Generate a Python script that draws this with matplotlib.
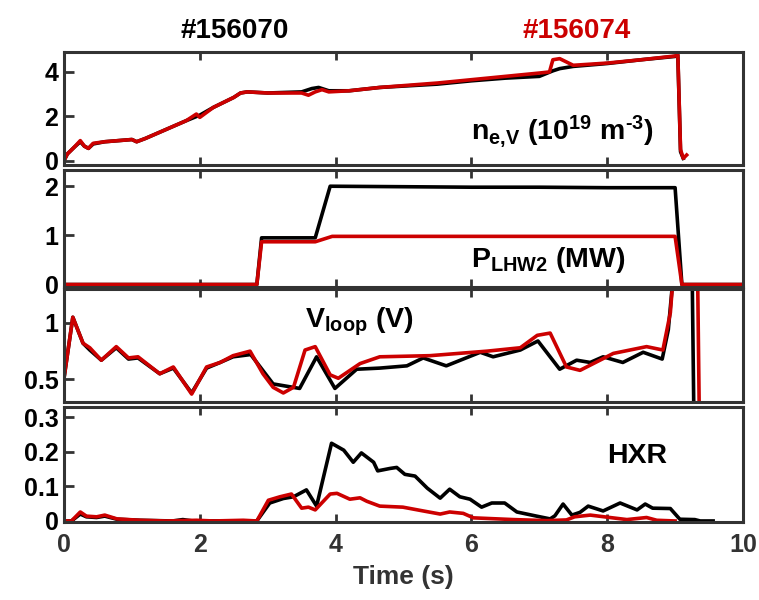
import numpy as np
import matplotlib
matplotlib.use("Agg")
from matplotlib import pyplot as plt

plt.rcParams['font.family'] = ['Liberation Sans', 'DejaVu Sans']
plt.rcParams['font.weight'] = 'bold'
plt.rcParams['mathtext.fontset'] = 'custom'
plt.rcParams['mathtext.rm'] = 'Liberation Sans:bold'
plt.rcParams['mathtext.bf'] = 'Liberation Sans:bold'
plt.rcParams['mathtext.it'] = 'Liberation Sans:bold'
plt.rcParams['mathtext.default'] = 'bf'

RED = '#cc0000'
GRAY = '#333333'

# ---- line-averaged density (10^19 m^-3) ----
ne_t_74 = [0.0, 0.05, 0.15, 0.24, 0.30, 0.36, 0.43, 0.6, 0.8, 1.0, 1.07, 1.2, 1.5, 1.8,
           1.95, 2.0, 2.2, 2.5, 2.6, 2.7, 3.0, 3.5, 3.6, 3.7, 3.8, 3.9, 4.2, 4.65, 5.5,
           6.0, 6.5, 7.0, 7.15, 7.2, 7.3, 7.4, 7.5, 8.0, 8.5, 9.0, 9.04, 9.08, 9.12, 9.17]
ne_v_74 = [0.0, 0.3, 0.6, 0.9, 0.65, 0.55, 0.78, 0.85, 0.9, 0.95, 0.85, 1.0, 1.4, 1.8,
           2.1, 1.95, 2.4, 2.85, 3.05, 3.1, 3.05, 3.05, 2.95, 3.1, 3.2, 3.1, 3.15, 3.3, 3.5,
           3.65, 3.8, 3.95, 4.0, 4.55, 4.6, 4.45, 4.3, 4.4, 4.55, 4.72, 4.8, 0.5, 0.1, 0.25]
ne_t_70 = [0.0, 0.05, 0.15, 0.24, 0.30, 0.36, 0.43, 0.6, 0.8, 1.0, 1.07, 1.2, 1.5, 1.8,
           2.0, 2.2, 2.5, 2.6, 2.7, 3.0, 3.5, 3.65, 3.75, 3.9, 4.2, 4.65, 5.5, 6.0, 6.5,
           7.0, 7.2, 7.3, 7.5, 8.0, 8.5, 9.0, 9.04, 9.08, 9.12]
ne_v_70 = [0.0, 0.3, 0.6, 0.85, 0.65, 0.55, 0.75, 0.85, 0.9, 0.95, 0.85, 1.0, 1.4, 1.8,
           2.05, 2.4, 2.85, 3.05, 3.1, 3.05, 3.1, 3.25, 3.3, 3.15, 3.15, 3.3, 3.45, 3.6,
           3.72, 3.8, 4.05, 4.15, 4.25, 4.38, 4.55, 4.7, 4.75, 0.4, 0.1]

# ---- LHW power (MW) ----
p_t_70 = [0.0, 2.84, 2.91, 3.3, 3.70, 3.92, 5.0, 6.0, 7.0, 8.0, 9.0, 9.1, 10.0]
p_v_70 = [0.0, 0.0, 0.95, 0.95, 0.95, 2.0, 1.99, 1.98, 1.98, 1.97, 1.97, 0.0, 0.0]
p_t_74 = [0.0, 2.84, 2.91, 3.3, 3.70, 3.95, 5.0, 6.0, 7.0, 8.0, 9.0, 9.1, 10.0]
p_v_74 = [0.0, 0.0, 0.87, 0.87, 0.87, 0.98, 0.98, 0.98, 0.98, 0.98, 0.98, 0.0, 0.0]

# ---- loop voltage (V) ----
vl_t_74 = [0.0, 0.13, 0.28, 0.38, 0.55, 0.77, 0.95, 1.09, 1.41, 1.61, 1.88, 2.10, 2.30,
           2.49, 2.74, 2.93, 3.08, 3.23, 3.38, 3.55, 3.70, 3.92, 4.04, 4.36, 4.65, 5.39,
           6.23, 6.72, 6.97, 7.16, 7.40, 7.60, 8.09, 8.58, 8.82, 8.93, 8.97, 9.05, 9.2,
           9.33, 9.36]
vl_v_74 = [0.51, 1.05, 0.82, 0.78, 0.67, 0.79, 0.69, 0.70, 0.55, 0.61, 0.37, 0.61, 0.65,
           0.71, 0.75, 0.55, 0.43, 0.38, 0.43, 0.76, 0.79, 0.54, 0.51, 0.64, 0.70, 0.71,
           0.75, 0.78, 0.89, 0.91, 0.61, 0.58, 0.73, 0.79, 0.76, 1.09, 1.4, 2.0, 2.0,
           1.5, 0.0]
vl_t_70 = [0.0, 0.13, 0.28, 0.38, 0.55, 0.77, 0.95, 1.09, 1.41, 1.61, 1.88, 2.10, 2.30,
           2.49, 2.75, 3.08, 3.47, 3.72, 3.99, 4.31, 4.65, 5.05, 5.29, 5.63, 6.13, 6.32,
           6.72, 6.98, 7.30, 7.55, 7.75, 7.94, 8.23, 8.53, 8.81, 8.90, 8.97, 9.05, 9.2,
           9.25, 9.28]
vl_v_70 = [0.51, 1.05, 0.82, 0.76, 0.67, 0.78, 0.68, 0.69, 0.55, 0.60, 0.38, 0.60, 0.65,
           0.70, 0.72, 0.46, 0.42, 0.70, 0.42, 0.59, 0.60, 0.62, 0.69, 0.62, 0.74, 0.70,
           0.76, 0.84, 0.59, 0.67, 0.65, 0.70, 0.65, 0.74, 0.68, 0.94, 1.4, 2.0, 2.0,
           1.5, 0.0]

# ---- hard X-ray (a.u.) ----
hxr_t_70 = [0.0, 0.11, 0.24, 0.33, 0.48, 0.60, 0.78, 1.12, 1.6, 1.75, 1.9, 2.84, 3.03,
            3.23, 3.38, 3.57, 3.72, 3.94, 4.12, 4.26, 4.38, 4.56, 4.62, 4.80, 4.90, 5.02,
            5.17, 5.35, 5.54, 5.68, 5.83, 5.98, 6.15, 6.30, 6.49, 6.67, 6.96, 7.16, 7.23,
            7.35, 7.48, 7.60, 7.72, 7.94, 8.19, 8.44, 8.56, 8.67, 8.93, 9.07, 9.29, 9.37,
            9.56]
hxr_v_70 = [0.0, 0.0, 0.02, 0.012, 0.01, 0.014, 0.005, 0.002, 0.0, 0.004, 0.0, 0.0, 0.052,
            0.065, 0.07, 0.09, 0.043, 0.225, 0.205, 0.17, 0.197, 0.17, 0.145, 0.152, 0.155,
            0.135, 0.13, 0.095, 0.066, 0.092, 0.07, 0.063, 0.04, 0.052, 0.052, 0.026,
            0.014, 0.006, 0.015, 0.049, 0.017, 0.025, 0.043, 0.029, 0.052, 0.032, 0.049,
            0.037, 0.036, 0.005, 0.004, 0.0, 0.0]
hxr_t_74 = [0.0, 0.11, 0.24, 0.33, 0.48, 0.60, 0.78, 1.12, 1.5, 1.95, 2.2, 2.64, 2.84,
            3.01, 3.18, 3.35, 3.50, 3.60, 3.70, 3.92, 4.02, 4.21, 4.36, 4.46, 4.65, 4.99,
            5.29, 5.54, 5.68, 5.88, 6.03, 6.62, 7.11, 7.40, 7.52, 7.75, 8.04, 8.29, 8.58,
            8.73, 9.0]
hxr_v_74 = [0.0, 0.0, 0.026, 0.014, 0.012, 0.017, 0.006, 0.002, 0.0, 0.002, 0.0, 0.002,
            0.0, 0.06, 0.07, 0.078, 0.037, 0.04, 0.032, 0.078, 0.08, 0.063, 0.067, 0.057,
            0.043, 0.04, 0.029, 0.02, 0.026, 0.022, 0.009, 0.004, 0.001, 0.003, 0.012,
            0.017, 0.01, 0.004, 0.01, 0.002, 0.0]

panels = [
    dict(t70=ne_t_70, v70=ne_v_70, t74=ne_t_74, v74=ne_v_74, ylim=(-0.2, 4.9),
         yticks=[0, 2, 4], ylabels=['0', '2', '4'],
         label=r'n$_{e{,}V}$ (10$^{19}$ m$^{\text{-}3}$)', pos=(0.60, 0.22)),
    dict(t70=p_t_70, v70=p_v_70, t74=p_t_74, v74=p_v_74, ylim=(-0.05, 2.33),
         yticks=[0, 1, 2], ylabels=['0', '1', '2'],
         label=r'P$_{LHW2}$ (MW)', pos=(0.60, 0.17)),
    dict(t70=vl_t_70, v70=vl_v_70, t74=vl_t_74, v74=vl_v_74, ylim=(0.3, 1.3),
         yticks=[0.5, 1.0], ylabels=['0.5', '1'],
         label=r'V$_{loop}$ (V)', pos=(0.355, 0.66)),
    dict(t70=hxr_t_70, v70=hxr_v_70, t74=hxr_t_74, v74=hxr_v_74, ylim=(-0.003, 0.33),
         yticks=[0, 0.1, 0.2, 0.3], ylabels=['0', '0.1', '0.2', '0.3'],
         label='HXR', pos=(0.80, 0.51)),
]

# axes boxes in pixels (top, bottom) from a 759x600 canvas
boxes = [(52, 165), (170, 287), (289, 402), (407, 522)]

fig = plt.figure(figsize=(7.59, 6.0), dpi=100)
left, right = 64 / 759, 743 / 759
axes = []
for i, p in enumerate(panels):
    top, bot = boxes[i]
    ax = fig.add_axes([left, 1 - bot / 600, right - left, (bot - top) / 600])
    ax.plot(p['t70'], p['v70'], color='black', lw=2.6, solid_joinstyle='round')
    ax.plot(p['t74'], p['v74'], color=RED, lw=2.6, solid_joinstyle='round')
    ax.set_xlim(0, 10)
    ax.set_ylim(*p['ylim'])
    ax.set_yticks(p['yticks'])
    ax.set_yticklabels(p['ylabels'])
    ax.set_xticks([0, 2, 4, 6, 8, 10])
    ax.tick_params(axis='x', direction='in', top=True, bottom=True, length=6, width=2,
                   color=GRAY, labelsize=18, labelcolor=GRAY, pad=8)
    ax.tick_params(axis='y', direction='in', left=True, right=False, length=7, width=2,
                   color=GRAY, labelsize=18, labelcolor='black', pad=4)
    for s in ax.spines.values():
        s.set_linewidth(2.2)
        s.set_color(GRAY)
    if i < 3:
        ax.set_xticklabels([])
    ax.text(p['pos'][0], p['pos'][1], p['label'], transform=ax.transAxes,
            fontsize=20.5, fontweight='bold', ha='left', va='baseline')
    axes.append(ax)

axes[-1].set_xlabel('Time (s)', fontsize=19, fontweight='bold', color=GRAY, labelpad=6)

fig.text(235 / 759, 1 - 31 / 600, '#156070', fontsize=20, fontweight='bold',
         color='black', ha='center', va='center')
fig.text(577 / 759, 1 - 31 / 600, '#156074', fontsize=20, fontweight='bold',
         color=RED, ha='center', va='center')

fig.savefig('out.png', dpi=100)
